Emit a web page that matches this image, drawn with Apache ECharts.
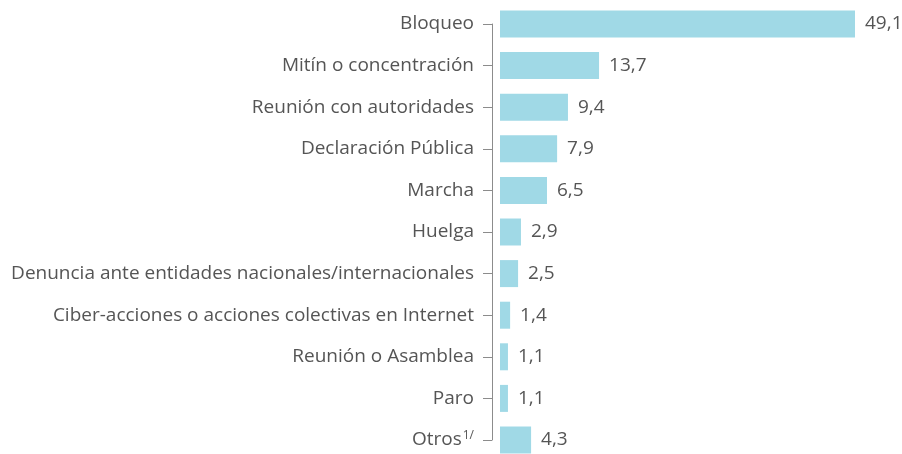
<!DOCTYPE html>
<html><head><meta charset="utf-8">
<script src="https://cdn.jsdelivr.net/npm/echarts@6/dist/echarts.min.js"></script>
<style>html,body{margin:0;padding:0;background:#fff}#c{width:902px;height:454px}</style>
</head><body><div id="c"></div>
<script>
const categories = ["Bloqueo","Mitín o concentración","Reunión con autoridades","Declaración Pública","Marcha","Huelga","Denuncia ante entidades nacionales/internacionales","Ciber-acciones o acciones colectivas en Internet","Reunión o Asamblea","Paro","Otros"];
const values = [49.1,13.7,9.4,7.9,6.5,2.9,2.5,1.4,1.1,1.1,4.3];
const FONT = "Open Sans";
const chart = echarts.init(document.getElementById('c'));
chart.setOption({
  animation:false,
  grid:{left:500,right:40.5,top:24,bottom:14,containLabel:false},
  xAxis:{type:'value',min:0,max:50,show:false},
  yAxis:{type:'category',data:categories,inverse:true,boundaryGap:false,offset:8,
    axisLine:{onZero:false,lineStyle:{color:'#8c8c8c',width:1}},
    axisTick:{length:9,lineStyle:{color:'#8c8c8c'}},
    axisLabel:{margin:18,color:'#555',fontFamily:FONT,fontSize:19,
      formatter:function(v){return v==='Otros'?'{a|Otros}{s|1/}':'{a|'+v+'}';},
      rich:{a:{color:'#555',fontFamily:FONT,fontSize:19},s:{color:'#555',fontFamily:FONT,fontSize:12,verticalAlign:'top',padding:[0,0,8,1]}}},
    splitLine:{show:false}},
  series:[{type:'bar',data:values,barWidth:27,clip:false,
    itemStyle:{color:'#a0d9e6'},
    label:{show:true,position:'right',distance:10,color:'#555',fontFamily:FONT,fontSize:19,
      formatter:function(p){return String(p.value).replace('.',',');}}}]
});
</script></body></html>
